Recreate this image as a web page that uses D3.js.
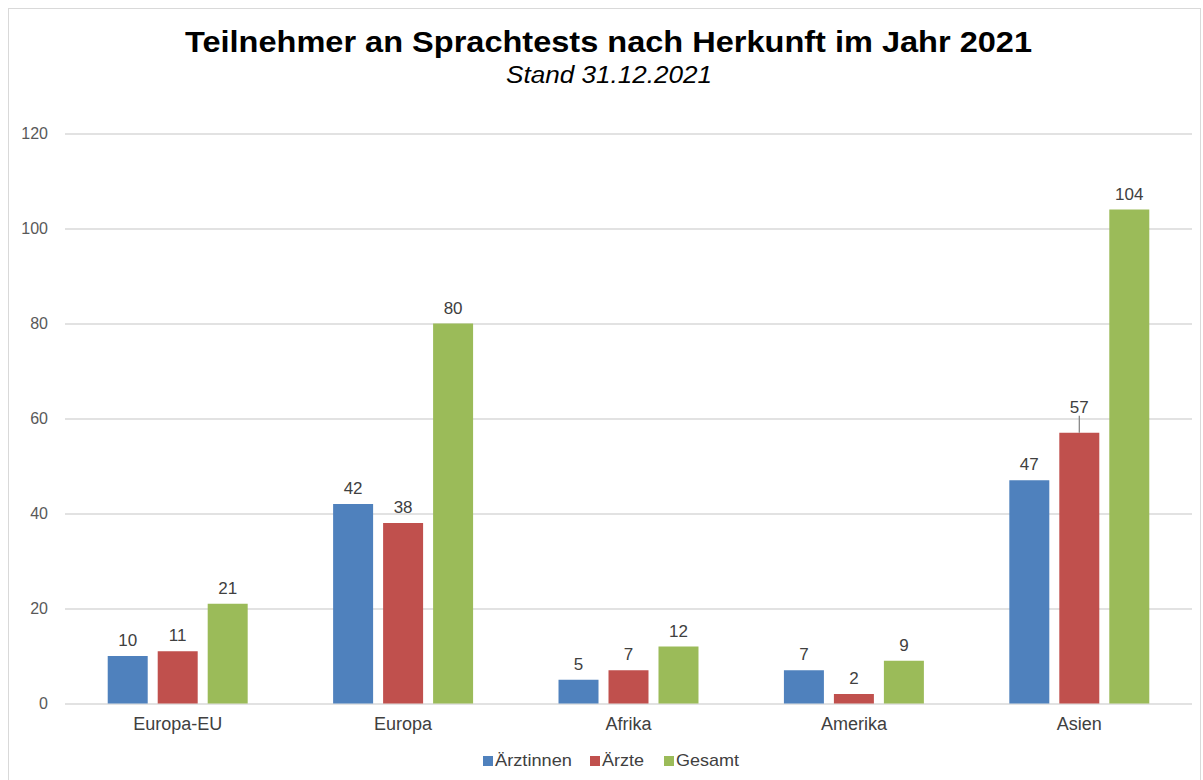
<!DOCTYPE html>
<html>
<head>
<meta charset="utf-8">
<script src="https://cdn.jsdelivr.net/npm/d3@7"></script>
<style>
  body { margin: 0; background: #fff; }
  text { font-family: "Liberation Sans", Arial, sans-serif; }
</style>
</head>
<body>
<svg id="chart" width="1203" height="780"></svg>
<script>
// Data
const categories = ['Europa-EU', 'Europa', 'Afrika', 'Amerika', 'Asien'];
const seriesNames = ['Ärztinnen', 'Ärzte', 'Gesamt'];
const aerztinnen = [10, 42, 5, 7, 47];
const aerzte = [11, 38, 7, 2, 57];
const gesamt = [21, 80, 12, 9, 104];
const yTicks = [0, 20, 40, 60, 80, 100, 120];
const colors = ['#4f81bd', '#c0504d', '#9bbb59'];

const titleText = 'Teilnehmer an Sprachtests nach Herkunft im Jahr 2021';
const subtitleText = 'Stand 31.12.2021';

const svg = d3.select('#chart');
const width = +svg.attr('width');

// plot area
const margin = { left: 65, right: 11, top: 133.5, bottom: 76.5 };
const innerW = width - margin.left - margin.right;
const innerH = 780 - margin.top - margin.bottom;

const values = [aerztinnen, aerzte, gesamt];
const rows = categories.map((c, i) => ({
  cat: c,
  vals: seriesNames.map((s, j) => ({ series: s, idx: j, value: values[j][i] }))
}));

// outer frame
svg.append('rect')
  .attr('x', 8.5).attr('y', 8.5)
  .attr('width', 1192).attr('height', 800)
  .attr('fill', 'none').attr('stroke', '#d9d9d9');

// titles (the original is a bit stretched horizontally)
svg.append('text')
  .attr('x', 185).attr('y', 52)
  .attr('font-size', 30).attr('font-weight', 'bold')
  .attr('fill', '#000')
  .attr('textLength', 847).attr('lengthAdjust', 'spacingAndGlyphs')
  .text(titleText);

svg.append('text')
  .attr('x', 506).attr('y', 83)
  .attr('font-size', 23).attr('font-style', 'italic')
  .attr('fill', '#000')
  .attr('textLength', 206).attr('lengthAdjust', 'spacingAndGlyphs')
  .text(subtitleText);

const g = svg.append('g')
  .attr('transform', `translate(${margin.left},${margin.top})`);

const yScale = d3.scaleLinear().domain([0, 120]).range([innerH, 0]);

const xScale = d3.scaleBand()
  .domain(categories)
  .range([0, innerW])
  .paddingInner(0.379)
  .paddingOuter(0.1895);

const xInner = d3.scaleBand()
  .domain(seriesNames)
  .range([0, xScale.bandwidth()])
  .paddingInner(0.2)
  .paddingOuter(0);

// gridlines + y labels
const yAxis = d3.axisLeft(yScale)
  .tickValues(yTicks)
  .tickSize(-innerW)
  .tickPadding(17);

const yAxisG = g.append('g').call(yAxis);
yAxisG.select('.domain').remove();
yAxisG.selectAll('.tick line').attr('stroke', '#d9d9d9').attr('stroke-width', 1.3);
yAxisG.selectAll('.tick text')
  .attr('font-size', 16)
  .attr('fill', '#595959')
  .attr('font-family', '"Liberation Sans", Arial, sans-serif');

// x axis labels
const xAxisG = g.append('g')
  .attr('transform', `translate(0,${innerH})`)
  .call(d3.axisBottom(xScale).tickSize(0).tickPadding(14));
xAxisG.select('.domain').remove();
xAxisG.selectAll('text')
  .attr('font-size', 18)
  .attr('fill', '#404040')
  .attr('font-family', '"Liberation Sans", Arial, sans-serif');

// bars
const groups = g.selectAll('.grp').data(rows)
  .enter().append('g')
  .attr('class', 'grp')
  .attr('transform', d => `translate(${xScale(d.cat)},0)`);

groups.selectAll('rect').data(d => d.vals)
  .enter().append('rect')
  .attr('x', d => xInner(d.series))
  .attr('width', xInner.bandwidth())
  .attr('y', d => yScale(d.value))
  .attr('height', d => innerH - yScale(d.value))
  .attr('fill', d => colors[d.idx]);

// value labels (Asien/Ärzte label is pushed up with a leader line)
groups.each(function (row) {
  const grp = d3.select(this);
  row.vals.forEach(d => {
    const cx = xInner(d.series) + xInner.bandwidth() / 2;
    const top = yScale(d.value);
    const lifted = row.cat === 'Asien' && d.series === 'Ärzte';
    const ly = lifted ? top - 20 : top - 10;
    if (lifted) {
      grp.append('line')
        .attr('x1', cx).attr('x2', cx)
        .attr('y1', top).attr('y2', ly + 3)
        .attr('stroke', '#7f7f7f').attr('stroke-width', 1.2);
    }
    grp.append('text')
      .attr('x', cx).attr('y', ly)
      .attr('text-anchor', 'middle')
      .attr('font-size', 17)
      .attr('fill', '#404040')
      .text(d.value);
  });
});

// legend
const legendX = [483, 590, 664];
const legendW = [77, 42, 63];
const legend = svg.append('g');
seriesNames.forEach((s, i) => {
  legend.append('rect')
    .attr('x', legendX[i]).attr('y', 756)
    .attr('width', 10).attr('height', 10)
    .attr('fill', colors[i]);
  legend.append('text')
    .attr('x', legendX[i] + 12).attr('y', 766)
    .attr('font-size', 17)
    .attr('fill', '#404040')
    .attr('textLength', legendW[i]).attr('lengthAdjust', 'spacingAndGlyphs')
    .text(s);
});
</script>
</body>
</html>
